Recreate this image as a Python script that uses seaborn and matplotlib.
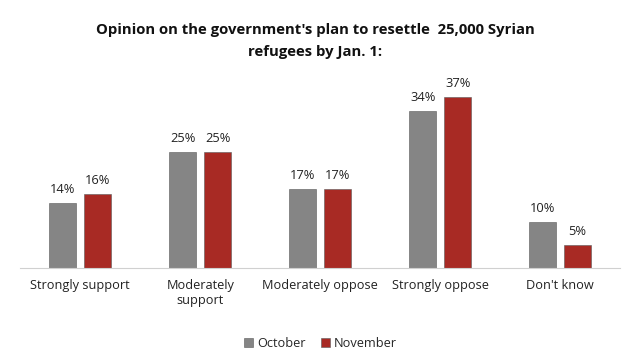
import pandas as pd
import matplotlib
matplotlib.use("Agg")
import matplotlib.pyplot as plt
import seaborn as sns

# values
categories = ["Strongly support", "Moderately\nsupport", "Moderately oppose", "Strongly oppose", "Don't know"]
october = [14, 25, 17, 34, 10]
november = [16, 25, 17, 37, 5]
months = ["October", "November"]

df = pd.DataFrame({
    "answer": categories * 2,
    "month": [months[0]] * 5 + [months[1]] * 5,
    "pct": october + november,
})

sns.set_style("white")
plt.rcParams["font.family"] = ["Open Sans", "DejaVu Sans"]

fig = plt.figure(figsize = (6.31, 3.55), dpi = 100)
ax = fig.add_axes([0.032, 0.245, 0.951, 0.521])

palette = {"October": "#858585", "November": "#A82A24"}
sns.barplot(data = df, x = "answer", y = "pct", hue = "month", palette = palette,
            width = 0.58, gap = 0.22, edgecolor = "#5a5a5a", linewidth = 0.4,
            saturation = 1, ax = ax, legend = True)

for cont in ax.containers:
    ax.bar_label(cont, labels = [f"{v:.0f}%" for v in cont.datavalues],
                 padding = 5, fontsize = 9.3, color = "#222222")

ax.set_ylim(0, 40)
ax.set_xlim(-0.5, 4.5)
ax.set_yticks([])
ax.set_xlabel("")
ax.set_ylabel("")
ax.tick_params(axis = "x", length = 0, labelsize = 9.2, pad = 8, colors = "#222222")
for s in ["top", "right", "left"]:
    ax.spines[s].set_visible(False)
ax.spines["bottom"].set_color("#d0d0d0")
ax.spines["bottom"].set_linewidth(0.8)

ax.legend(loc = "center", bbox_to_anchor = (0.5, -0.41), ncol = 2, frameon = False,
          fontsize = 9.2, handlelength = 0.7, handleheight = 0.7, handletextpad = 0.3,
          columnspacing = 1.2)

fig.text(0.5, 0.915, "Opinion on the government's plan to resettle  25,000 Syrian",
         ha = "center", va = "center", fontsize = 10.7, fontweight = "bold", color = "#111111")
fig.text(0.5, 0.853, "refugees by Jan. 1:",
         ha = "center", va = "center", fontsize = 10.7, fontweight = "bold", color = "#111111")

fig.savefig("out.png", dpi = 100)
